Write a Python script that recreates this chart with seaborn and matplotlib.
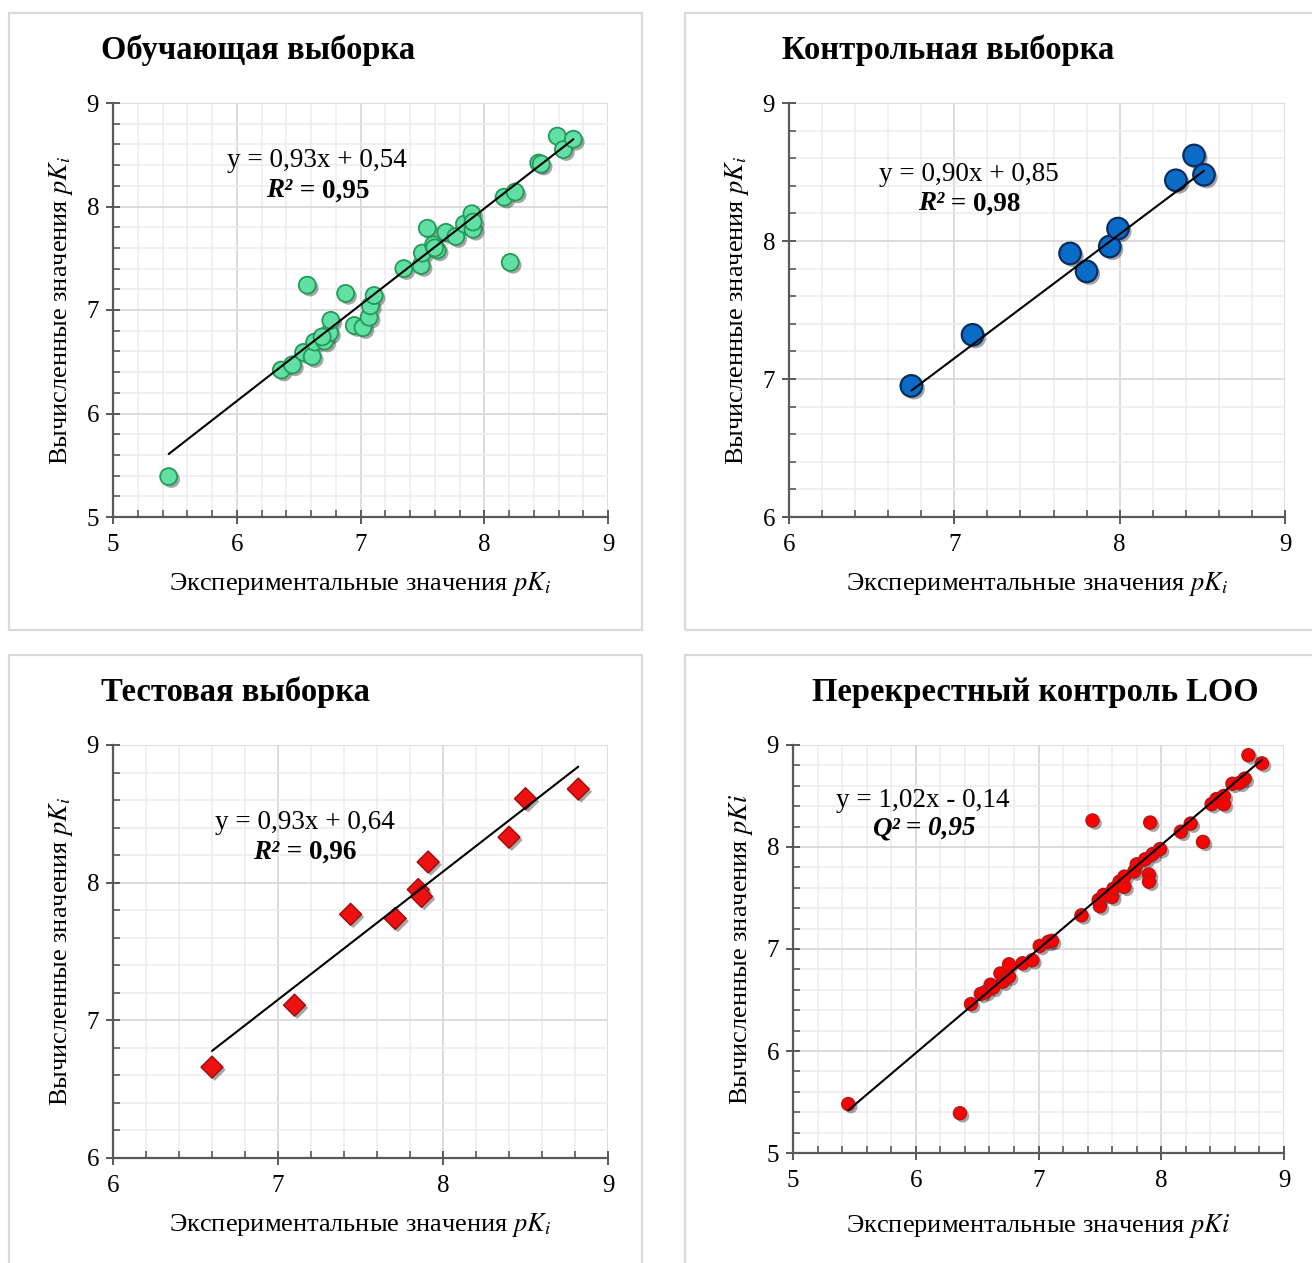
"""Четыре панели: вычисленные vs экспериментальные pKi (seaborn + matplotlib)."""

import matplotlib

matplotlib.use("Agg")
import matplotlib.pyplot as plt
import matplotlib.patheffects as pe
from matplotlib.patches import Rectangle
from matplotlib.ticker import MultipleLocator
import numpy as np
import seaborn as sns

# --- data ------------------------------------------------------------------
train_x = [5.45, 6.36, 6.45, 6.54, 6.61, 6.63, 6.71, 6.75, 6.76, 6.57, 6.88, 6.95,
           7.02, 7.07, 7.08, 7.11, 7.35, 7.49, 7.50, 7.54, 7.59, 7.62, 7.69, 7.77,
           7.84, 7.90, 7.91, 7.91, 8.16, 8.25, 8.21, 8.44, 8.46, 8.59, 8.64, 8.72,
           6.69, 7.60]
train_y = [5.39, 6.42, 6.47, 6.59, 6.55, 6.69, 6.70, 6.78, 6.90, 7.24, 7.16, 6.85,
           6.83, 6.93, 7.04, 7.14, 7.40, 7.43, 7.55, 7.79, 7.63, 7.58, 7.75, 7.71,
           7.83, 7.93, 7.78, 7.85, 8.09, 8.14, 7.46, 8.42, 8.41, 8.68, 8.55, 8.65,
           6.74, 7.60]

ctrl_x = [6.74, 7.11, 7.70, 7.80, 7.94, 7.99, 8.34, 8.45, 8.51]
ctrl_y = [6.95, 7.32, 7.91, 7.78, 7.96, 8.09, 8.44, 8.62, 8.48]

test_x = [6.60, 7.10, 7.44, 7.71, 7.85, 7.87, 7.91, 8.40, 8.50, 8.82]
test_y = [6.66, 7.11, 7.77, 7.74, 7.95, 7.90, 8.15, 8.33, 8.61, 8.68]

loo_x = [5.45, 6.36, 6.45, 6.53, 6.57, 6.61, 6.63, 6.69, 6.71, 6.76, 6.76, 6.87,
         6.95, 7.01, 7.08, 7.11, 7.35, 7.44, 7.50, 7.49, 7.53, 7.60, 7.61, 7.66,
         7.70, 7.70, 7.78, 7.80, 7.87, 7.90, 7.90, 7.91, 7.93, 7.99, 8.16, 8.24,
         8.34, 8.41, 8.45, 8.51, 8.51, 8.58, 8.68, 8.64, 8.71, 8.82]
loo_y = [5.48, 5.39, 6.46, 6.56, 6.58, 6.65, 6.62, 6.76, 6.68, 6.85, 6.73, 6.86,
         6.89, 7.03, 7.07, 7.08, 7.33, 8.26, 7.42, 7.48, 7.53, 7.51, 7.59, 7.66,
         7.61, 7.71, 7.76, 7.83, 7.88, 7.73, 7.66, 8.24, 7.93, 7.98, 8.15, 8.23,
         8.05, 8.42, 8.47, 8.50, 8.42, 8.62, 8.67, 8.63, 8.90, 8.82]

titles = ["Обучающая выборка", "Контрольная выборка",
          "Тестовая выборка", "Перекрестный контроль LOO"]
slopes = [0.93, 0.90, 0.93, 1.02]
intercepts = [0.54, 0.85, 0.64, -0.14]
eq_texts = ["y = 0,93x + 0,54", "y = 0,90x + 0,85",
            "y = 0,93x + 0,64", "y = 1,02x - 0,14"]
stat_names = ["R²", "R²", "R²", "Q²"]
stat_values = [" = 0,95", " = 0,98", " = 0,96", " = 0,95"]

sns.set_theme(style="white")
plt.rcParams["font.family"] = ["Liberation Serif", "DejaVu Serif"]
plt.rcParams["mathtext.fontset"] = "stix"
plt.rcParams["text.color"] = "black"
plt.rcParams["axes.labelcolor"] = "black"

W, H = 1312, 1263
fig = plt.figure(figsize=(W / 100, H / 100), dpi=100)
fig.patch.set_facecolor("white")


def px_rect(l, t, r, b):
    return [l / W, 1 - b / H, (r - l) / W, (b - t) / H]


# panel frames
for (l, t, r, b) in [(9, 13, 642, 630), (685, 13, 1330, 630),
                     (9, 655, 642, 1290), (685, 655, 1330, 1290)]:
    fig.patches.append(Rectangle((l / W, 1 - b / H), (r - l) / W, (b - t) / H,
                                 transform=fig.transFigure, fill=False,
                                 edgecolor="#d9d9d9", lw=1.6, zorder=0))

panels = [
    dict(x=train_x, y=train_y, rect=(113, 103, 608, 517), lim=(5, 9),
         marker="o", s=150, face="#62dfa4", edge="#249a58", lw=1.3,
         title_xy=(101, 50), eq_xy=(6.65, 8.44), st_xy=(6.24, 8.15), xpad=10,
         ylab=r"Вычисленные значения $pK_i$", xlab=r"Экспериментальные значения $pK_i$"),
    dict(x=ctrl_x, y=ctrl_y, rect=(789, 103, 1285, 517), lim=(6, 9),
         marker="o", s=240, face="#0b6cc8", edge="#0b2c5e", lw=1.6,
         title_xy=(782, 50), eq_xy=(7.09, 8.485), st_xy=(6.78, 8.27), xpad=10,
         ylab=r"Вычисленные значения $pK_i$", xlab=r"Экспериментальные значения $pK_i$"),
    dict(x=test_x, y=test_y, rect=(113, 745, 608, 1158), lim=(6, 9),
         marker="D", s=125, face="#ee1111", edge="#9a0c0c", lw=1.0,
         title_xy=(101, 692), eq_xy=(7.16, 8.44), st_xy=(6.85, 8.22), xpad=10,
         ylab=r"Вычисленные значения $pK_i$", xlab=r"Экспериментальные значения $pK_i$"),
    dict(x=loo_x, y=loo_y, rect=(793, 745, 1284, 1153), lim=(5, 9),
         marker="o", s=90, face="#ff0000", edge="#a81c1c", lw=0.9,
         title_xy=(812, 692), eq_xy=(6.06, 8.46), st_xy=(5.64, 8.18), xpad=15,
         ylab=r"Вычисленные значения $pKi$", xlab=r"Экспериментальные значения $pKi$"),
]

for i, p in enumerate(panels):
    ax = fig.add_axes(px_rect(*p["rect"]))
    lo, hi = p["lim"]
    ax.set_xlim(lo, hi)
    ax.set_ylim(lo, hi)
    ax.xaxis.set_major_locator(MultipleLocator(1))
    ax.yaxis.set_major_locator(MultipleLocator(1))
    ax.xaxis.set_minor_locator(MultipleLocator(0.2))
    ax.yaxis.set_minor_locator(MultipleLocator(0.2))
    ax.grid(which="major", color="#d9d9d9", lw=1.3)
    ax.grid(which="minor", color="#ececec", lw=1.1)
    ax.set_axisbelow(True)
    for side in ("top", "right"):
        ax.spines[side].set_visible(False)
    for side in ("left", "bottom"):
        ax.spines[side].set_color("#595959")
        ax.spines[side].set_linewidth(1.6)
    ax.tick_params(which="major", direction="inout", length=10, width=1.4,
                   color="#595959", labelsize=18, pad=5, labelcolor="black",
                   left=True, bottom=True)
    ax.tick_params(which="minor", direction="in", length=5, width=1.2,
                   color="#595959", left=True, bottom=True)
    ax.tick_params(axis="x", which="major", pad=7)

    sc = sns.scatterplot(x=p["x"], y=p["y"], ax=ax, marker=p["marker"], s=p["s"],
                         color=p["face"], edgecolor=p["edge"], linewidth=p["lw"],
                         zorder=3, clip_on=False)
    sc.collections[0].set_path_effects([
        pe.SimplePatchShadow(offset=(2, -2), shadow_rgbFace="black", alpha=0.35),
        pe.Normal(),
    ])

    xs = np.array([min(p["x"]), max(p["x"])])
    ax.plot(xs, slopes[i] * xs + intercepts[i], color="black", lw=1.5, zorder=4)

    ax.text(*p["eq_xy"], eq_texts[i], ha="center", va="center", fontsize=19.5,
            zorder=5)
    st = ax.text(*p["st_xy"], stat_names[i], ha="left", va="center", fontsize=19.5,
                 fontweight="bold", fontstyle="italic", zorder=5)
    ax.annotate(stat_values[i], xy=(1, 0), xycoords=st, ha="left", va="bottom",
                fontsize=19.5, fontweight="bold",
                fontstyle="italic" if stat_names[i] == "Q²" else "normal", zorder=5)

    ax.set_xlabel(p["xlab"], fontsize=19, labelpad=p["xpad"])
    ax.set_ylabel(p["ylab"], fontsize=19, labelpad=8)

    tx, ty = p["title_xy"]
    fig.text(tx / W, 1 - ty / H, titles[i], ha="left", va="center",
             fontsize=23.5, fontweight="bold")

fig.savefig("out.png", dpi=100)
